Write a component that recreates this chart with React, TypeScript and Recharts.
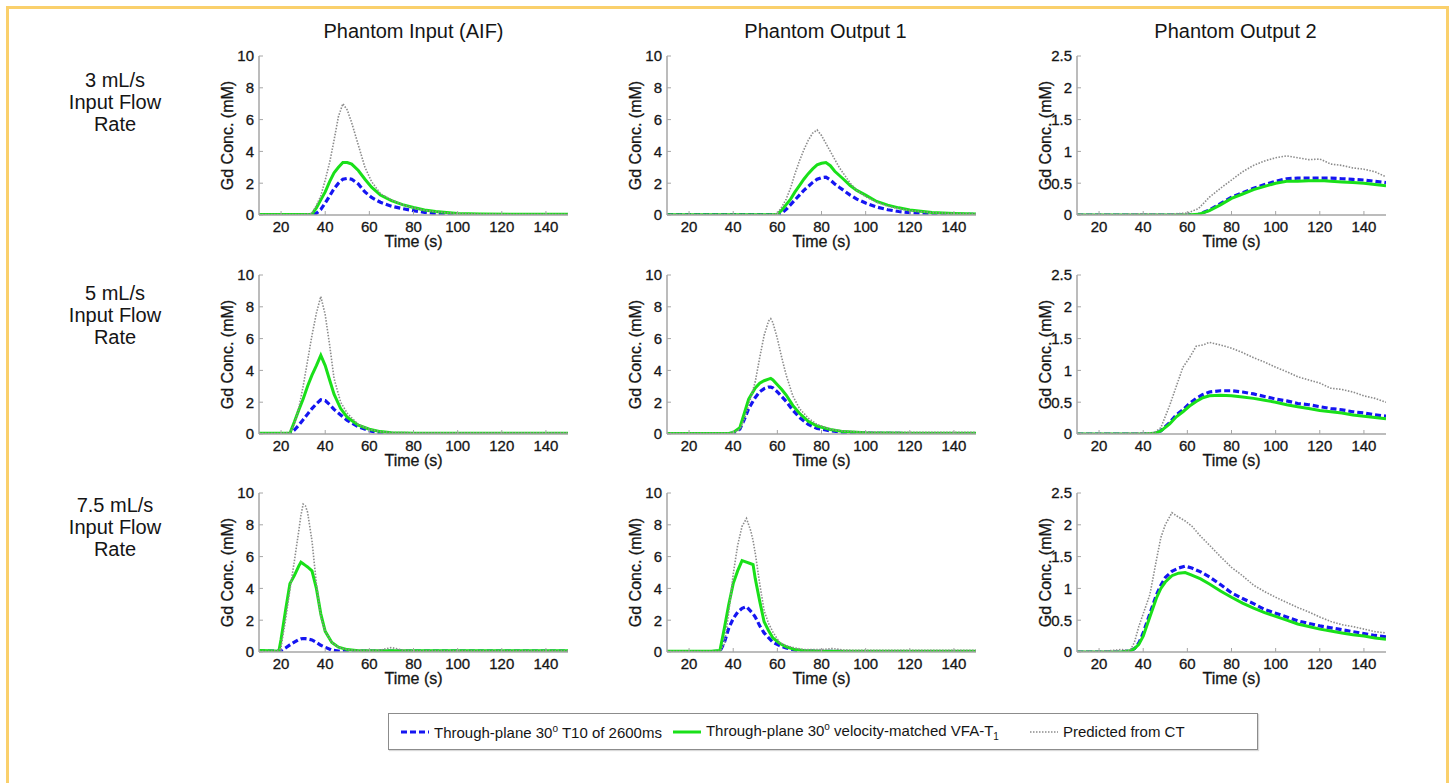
import { LineChart, Line, XAxis, YAxis } from 'recharts'

// axes
const timeTicks = [20, 40, 60, 80, 100, 120, 140]
const concTicks = [0, 2, 4, 6, 8, 10]
const lowConcTicks = [0, 0.5, 1, 1.5, 2, 2.5]

const columnTitles = ['Phantom Input (AIF)', 'Phantom Output 1', 'Phantom Output 2']
const flowRates = ['3 mL/s', '5 mL/s', '7.5 mL/s']

const legendLabels = ['Through-plane 30', 'Through-plane 30', 'Predicted from CT']

// 3 mL/s, input
const aif3Time = [10, 30, 34, 36, 38, 40, 42, 44, 46, 48, 50, 52, 55, 58, 61, 65, 70, 75, 80, 85, 90, 100, 110, 130, 150]
const aif3Blue = [0.02, 0.02, 0.02, 0.1, 0.35, 0.75, 1.2, 1.65, 2.0, 2.25, 2.3, 2.25, 1.95, 1.45, 1.1, 0.8, 0.55, 0.4, 0.27, 0.17, 0.08, 0.03, 0.02, 0.02, 0.02]
const aif3Green = [0.03, 0.03, 0.05, 0.45, 0.95, 1.45, 2.1, 2.65, 3.0, 3.3, 3.3, 3.2, 2.8, 2.25, 1.75, 1.25, 0.9, 0.65, 0.47, 0.32, 0.22, 0.1, 0.06, 0.04, 0.04]
const aif3Ct = [0.03, 0.03, 0.1, 0.6, 1.2, 2.2, 3.3, 4.7, 6.2, 7.0, 6.6, 5.8, 4.4, 3.0, 2.1, 1.35, 0.95, 0.65, 0.45, 0.3, 0.2, 0.1, 0.06, 0.04, 0.04]

// 3 mL/s, output 1
const out1r3Time = [10, 58, 60, 62, 64, 66, 68, 70, 72, 74, 76, 78, 80, 82, 84, 86, 88, 90, 93, 96, 100, 105, 110, 115, 120, 130, 140, 150]
const out1r3Blue = [0.02, 0.02, 0.02, 0.12, 0.35, 0.65, 0.95, 1.25, 1.55, 1.8, 2.05, 2.25, 2.35, 2.38, 2.2, 1.95, 1.75, 1.55, 1.25, 1.0, 0.75, 0.5, 0.33, 0.22, 0.15, 0.08, 0.05, 0.04]
const out1r3Green = [0.02, 0.02, 0.05, 0.3, 0.65, 1.0, 1.45, 1.85, 2.25, 2.6, 2.9, 3.15, 3.25, 3.3, 3.1, 2.75, 2.5, 2.25, 1.85, 1.55, 1.25, 0.85, 0.62, 0.45, 0.32, 0.16, 0.1, 0.07]
const out1r3Ct = [0.03, 0.03, 0.1, 0.5, 1.0, 1.7, 2.6, 3.4, 4.1, 4.7, 5.15, 5.35, 5.0, 4.5, 4.0, 3.5, 3.0, 2.6, 2.0, 1.55, 1.15, 0.8, 0.55, 0.4, 0.28, 0.15, 0.1, 0.08]

// 3 mL/s, output 2
const out2r3Time = [10, 20, 30, 40, 50, 60, 65, 70, 75, 80, 85, 90, 95, 100, 105, 110, 115, 120, 122, 125, 130, 135, 140, 145, 150]
const out2r3Blue = [0, 0, 0, 0, 0, 0, 0.01, 0.08, 0.18, 0.28, 0.35, 0.42, 0.48, 0.53, 0.57, 0.58, 0.58, 0.58, 0.58, 0.58, 0.57, 0.56, 0.55, 0.53, 0.51]
const out2r3Green = [0, 0, 0, 0, 0, 0, 0.01, 0.07, 0.16, 0.26, 0.33, 0.4, 0.45, 0.5, 0.53, 0.53, 0.54, 0.54, 0.54, 0.53, 0.52, 0.51, 0.5, 0.48, 0.46]
const out2r3Ct = [0.01, 0.01, 0.01, 0.02, 0.01, 0.03, 0.1, 0.28, 0.42, 0.55, 0.68, 0.78, 0.85, 0.9, 0.93, 0.9, 0.87, 0.88, 0.85, 0.8, 0.78, 0.74, 0.72, 0.68, 0.6]

// 5 mL/s, input
const aif5Time = [10, 20, 24, 26, 28, 30, 32, 34, 36, 38, 40, 42, 44, 47, 50, 55, 60, 65, 70, 80, 100, 120, 150]
const aif5Blue = [0.02, 0.02, 0.02, 0.25, 0.55, 0.9, 1.25, 1.6, 1.9, 2.15, 2.1, 1.85, 1.55, 1.2, 0.85, 0.45, 0.2, 0.05, 0.02, 0.02, 0.02, 0.02, 0.02]
const aif5Green = [0.05, 0.05, 0.05, 0.75, 1.5, 2.2, 3.0, 3.7, 4.3, 4.95, 4.3, 3.4, 2.5, 1.6, 1.05, 0.55, 0.3, 0.15, 0.08, 0.05, 0.05, 0.05, 0.05]
const aif5Ct = [0.05, 0.05, 0.1, 0.6, 1.6, 3.0, 4.6, 6.2, 7.6, 8.65, 7.5, 5.6, 3.5, 2.0, 1.3, 0.6, 0.3, 0.15, 0.1, 0.08, 0.08, 0.08, 0.08]

// 5 mL/s, output 1
const out1r5Time = [10, 38, 40, 43, 45, 47, 50, 52, 54, 56, 57, 58, 60, 62, 64, 67, 70, 74, 78, 84, 90, 100, 120, 150]
const out1r5Blue = [0.02, 0.02, 0.05, 0.3, 0.9, 1.6, 2.3, 2.65, 2.85, 2.95, 2.95, 2.9, 2.65, 2.35, 2.05, 1.5, 1.05, 0.6, 0.35, 0.2, 0.1, 0.05, 0.03, 0.03]
const out1r5Green = [0.03, 0.03, 0.1, 0.4, 1.3, 2.2, 2.9, 3.2, 3.35, 3.45, 3.5, 3.4, 3.1, 2.8, 2.45, 1.8, 1.3, 0.8, 0.5, 0.28, 0.15, 0.08, 0.05, 0.05]
const out1r5Ct = [0.05, 0.05, 0.05, 0.3, 0.9, 1.8, 3.3, 4.8, 6.2, 7.1, 7.25, 7.0, 6.0, 4.8, 3.7, 2.4, 1.6, 1.0, 0.6, 0.3, 0.18, 0.12, 0.1, 0.1]

// 5 mL/s, output 2
const out2r5Time = [10, 30, 40, 45, 48, 52, 55, 58, 61, 64, 67, 70, 75, 80, 85, 90, 95, 100, 105, 110, 115, 120, 125, 130, 135, 140, 145, 150]
const out2r5Blue = [0, 0, 0, 0.01, 0.05, 0.18, 0.3, 0.38, 0.48, 0.56, 0.62, 0.66, 0.68, 0.68, 0.66, 0.63, 0.59, 0.55, 0.52, 0.48, 0.46, 0.43, 0.4, 0.38, 0.35, 0.33, 0.3, 0.28]
const out2r5Green = [0, 0, 0, 0.01, 0.05, 0.16, 0.27, 0.35, 0.44, 0.51, 0.57, 0.6, 0.61, 0.6, 0.58, 0.56, 0.53, 0.5, 0.46, 0.43, 0.4, 0.37, 0.35, 0.33, 0.3, 0.28, 0.26, 0.24]
const out2r5Ct = [0.01, 0.01, 0.02, 0.02, 0.1, 0.45, 0.75, 1.05, 1.2, 1.38, 1.4, 1.44, 1.4, 1.35, 1.28, 1.2, 1.13, 1.05, 0.98, 0.9, 0.85, 0.8, 0.72, 0.7, 0.66, 0.6, 0.56, 0.5]

// 7.5 mL/s, input
const aif75Time = [10, 15, 19, 20, 22, 24, 26, 28, 29, 30, 31, 32, 34, 36, 38, 40, 43, 46, 50, 55, 60, 65, 70, 75, 80, 100, 120, 150]
const aif75Blue = [0.05, 0.05, 0.05, 0.08, 0.25, 0.45, 0.62, 0.78, 0.83, 0.85, 0.84, 0.82, 0.76, 0.6, 0.42, 0.3, 0.12, 0.06, 0.05, 0.05, 0.05, 0.05, 0.05, 0.05, 0.05, 0.05, 0.05, 0.05]
const aif75Green = [0.1, 0.08, 0.05, 0.8, 2.6, 4.3, 4.8, 5.4, 5.65, 5.55, 5.45, 5.35, 5.1, 4.0, 2.4, 1.3, 0.6, 0.3, 0.15, 0.08, 0.08, 0.08, 0.08, 0.08, 0.08, 0.08, 0.08, 0.08]
const aif75Ct = [0.05, 0.05, 0.1, 0.3, 2.0, 3.9, 5.7, 7.6, 8.6, 9.3, 9.2, 8.8, 7.0, 4.3, 2.2, 1.3, 0.6, 0.3, 0.15, 0.1, 0.1, 0.12, 0.28, 0.12, 0.08, 0.08, 0.08, 0.08]

// 7.5 mL/s, output 1
const out1r75Time = [10, 30, 34, 36, 38, 40, 42, 44, 46, 48, 49, 50, 52, 54, 56, 58, 61, 64, 68, 72, 80, 85, 90, 100, 120, 150]
const out1r75Blue = [0.03, 0.03, 0.05, 0.6, 1.5, 2.1, 2.5, 2.75, 2.85, 2.55, 2.4, 2.2, 1.65, 1.2, 0.9, 0.62, 0.4, 0.25, 0.12, 0.07, 0.04, 0.04, 0.03, 0.03, 0.03, 0.03]
const out1r75Green = [0.05, 0.05, 0.1, 1.5, 3.0, 4.3, 5.1, 5.75, 5.65, 5.55, 5.5, 4.6, 3.2, 1.9, 1.35, 0.88, 0.55, 0.33, 0.15, 0.1, 0.05, 0.05, 0.05, 0.05, 0.05, 0.05]
const out1r75Ct = [0.05, 0.05, 0.05, 0.5, 2.5, 4.9, 6.7, 7.9, 8.4, 7.6, 7.0, 6.2, 4.3, 2.6, 1.8, 1.25, 0.6, 0.4, 0.25, 0.15, 0.15, 0.22, 0.12, 0.1, 0.1, 0.1]

// 7.5 mL/s, output 2
const out2r75Time = [10, 20, 28, 30, 34, 36, 38, 40, 43, 46, 48, 50, 53, 56, 59, 62, 66, 70, 75, 80, 85, 90, 95, 100, 105, 110, 115, 120, 125, 130, 135, 140, 145, 150]
const out2r75Blue = [0, 0, 0, 0, 0.02, 0.05, 0.14, 0.3, 0.6, 0.9, 1.05, 1.17, 1.27, 1.32, 1.35, 1.32, 1.26, 1.18, 1.06, 0.93, 0.84, 0.76, 0.67, 0.61, 0.55, 0.49, 0.45, 0.41, 0.38, 0.35, 0.32, 0.29, 0.26, 0.24]
const out2r75Green = [0, 0, 0, 0, 0.02, 0.05, 0.12, 0.25, 0.55, 0.85, 1.0, 1.1, 1.2, 1.24, 1.25, 1.21, 1.15, 1.07, 0.96, 0.86, 0.77, 0.69, 0.62, 0.56, 0.5, 0.44, 0.4, 0.36, 0.33, 0.3, 0.27, 0.25, 0.22, 0.2]
const out2r75Ct = [0.01, 0.01, 0.03, 0.04, 0.02, 0.15, 0.4, 0.6, 0.9, 1.45, 1.8, 2.0, 2.19, 2.12, 2.06, 1.98, 1.82, 1.68, 1.5, 1.33, 1.2, 1.05, 0.95, 0.86, 0.78, 0.7, 0.63, 0.55, 0.48, 0.43, 0.4, 0.36, 0.32, 0.3]

const panels = [
  [
    { t: aif3Time, blue: aif3Blue, green: aif3Green, ct: aif3Ct, ticks: concTicks },
    { t: out1r3Time, blue: out1r3Blue, green: out1r3Green, ct: out1r3Ct, ticks: concTicks },
    { t: out2r3Time, blue: out2r3Blue, green: out2r3Green, ct: out2r3Ct, ticks: lowConcTicks },
  ],
  [
    { t: aif5Time, blue: aif5Blue, green: aif5Green, ct: aif5Ct, ticks: concTicks },
    { t: out1r5Time, blue: out1r5Blue, green: out1r5Green, ct: out1r5Ct, ticks: concTicks },
    { t: out2r5Time, blue: out2r5Blue, green: out2r5Green, ct: out2r5Ct, ticks: lowConcTicks },
  ],
  [
    { t: aif75Time, blue: aif75Blue, green: aif75Green, ct: aif75Ct, ticks: concTicks },
    { t: out1r75Time, blue: out1r75Blue, green: out1r75Green, ct: out1r75Ct, ticks: concTicks },
    { t: out2r75Time, blue: out2r75Blue, green: out2r75Green, ct: out2r75Ct, ticks: lowConcTicks },
  ],
]

const colors = {
  blue: '#1515f2',
  green: '#19e019',
  ct: '#8c8c8c',
  frame: '#a6a6a6',
  text: '#151515',
  border: '#fad06c',
}

const font = '"Liberation Sans", Arial, Helvetica, sans-serif'

const plotLeft = [259, 667, 1077]
const plotTop = [56, 275, 493]
const rowLabelTop = [69, 282, 494]
const PLOT_W = 309
const PLOT_H = 159
const Y_AXIS_W = 64
const X_AXIS_H = 46
const PAD_TOP = 14
const PAD_RIGHT = 10
const TICK_LEN = 4
const X_MARGIN = 6
const Y_MARGIN = 5

const seriesStyle = {
  blue: { stroke: colors.blue, strokeWidth: 3.2, strokeDasharray: '6 3' },
  green: { stroke: colors.green, strokeWidth: 3 },
  ct: { stroke: colors.ct, strokeWidth: 1.6, strokeDasharray: '1.5 1.5' },
}

const labelText = { fill: colors.text, stroke: colors.text, strokeWidth: 0.3, fontSize: 15 }

// inward MATLAB-style ticks; label offsets come from the axis' own tick positions
function BottomTick(props: any) {
  const { x, y, payload } = props
  const axisY = y - X_MARGIN
  return (
    <g>
      <line x1={x} y1={axisY} x2={x} y2={axisY - TICK_LEN} stroke={colors.frame} />
      <text x={x} y={y} dy="0.72em" textAnchor="middle" {...labelText}>
        {payload.value}
      </text>
    </g>
  )
}

function LeftTick(props: any) {
  const { x, y, payload } = props
  const axisX = x + Y_MARGIN
  return (
    <g>
      <line x1={axisX} y1={y} x2={axisX + TICK_LEN} y2={y} stroke={colors.frame} />
      <text x={x} y={y} dy="0.36em" textAnchor="end" {...labelText}>
        {payload.value}
      </text>
    </g>
  )
}

function TopTick(props: any) {
  const { x, y } = props
  return <line x1={x} y1={y} x2={x} y2={y + TICK_LEN} stroke={colors.frame} />
}

function RightTick(props: any) {
  const { x, y } = props
  return <line x1={x} y1={y} x2={x - TICK_LEN} y2={y} stroke={colors.frame} />
}

type PanelData = { t: number[]; blue: number[]; green: number[]; ct: number[]; ticks: number[] }

function Panel({ panel, left, top }: { panel: PanelData; left: number; top: number }) {
  const rows = panel.t.map((t, i) => ({ t, blue: panel.blue[i], green: panel.green[i], ct: panel.ct[i] }))
  const yMax = panel.ticks[panel.ticks.length - 1]
  return (
    <div style={{ position: 'absolute', left: left - Y_AXIS_W, top: top - PAD_TOP }}>
      <LineChart
        width={Y_AXIS_W + PLOT_W + PAD_RIGHT}
        height={PAD_TOP + PLOT_H + X_AXIS_H}
        data={rows}
        margin={{ top: PAD_TOP, right: PAD_RIGHT, bottom: 0, left: 0 }}
        style={{ fontFamily: font }}
      >
        <XAxis
          dataKey="t"
          type="number"
          domain={[10, 150]}
          ticks={timeTicks}
          interval={0}
          allowDataOverflow
          height={X_AXIS_H}
          stroke={colors.frame}
          strokeWidth={1.5}
          tickLine={false}
          tickSize={0}
          tickMargin={X_MARGIN}
          tick={<BottomTick />}
          label={{ value: 'Time (s)', position: 'insideBottom', offset: 14, ...labelText, fontSize: 16 }}
        />
        <XAxis
          xAxisId="top"
          orientation="top"
          type="number"
          domain={[10, 150]}
          ticks={timeTicks}
          interval={0}
          height={0}
          stroke={colors.frame}
          strokeWidth={1.5}
          tickLine={false}
          tickSize={0}
          tickMargin={0}
          tick={<TopTick />}
        />
        <YAxis
          type="number"
          domain={[0, yMax]}
          ticks={panel.ticks}
          interval={0}
          allowDataOverflow
          width={Y_AXIS_W}
          stroke={colors.frame}
          strokeWidth={1.5}
          tickLine={false}
          tickSize={0}
          tickMargin={Y_MARGIN}
          tick={<LeftTick />}
          label={{ value: 'Gd Conc. (mM)', angle: -90, position: 'center', ...labelText, fontSize: 16 }}
        />
        <YAxis
          yAxisId="right"
          orientation="right"
          type="number"
          domain={[0, yMax]}
          ticks={panel.ticks}
          interval={0}
          width={0}
          stroke={colors.frame}
          strokeWidth={1.5}
          tickLine={false}
          tickSize={0}
          tickMargin={0}
          tick={<RightTick />}
        />
        <Line type="linear" dataKey="blue" dot={false} isAnimationActive={false} {...seriesStyle.blue} />
        <Line type="linear" dataKey="green" dot={false} isAnimationActive={false} {...seriesStyle.green} />
        <Line type="linear" dataKey="ct" dot={false} isAnimationActive={false} {...seriesStyle.ct} />
      </LineChart>
    </div>
  )
}

function Sample({ style }: { style: { stroke: string; strokeWidth: number; strokeDasharray?: string } }) {
  return (
    <svg width={30} height={10} style={{ marginRight: 4, flex: 'none' }}>
      <line x1={1} y1={5} x2={29} y2={5} {...style} />
    </svg>
  )
}

export default function App() {
  return (
    <div
      style={{
        position: 'absolute',
        left: 0,
        top: 0,
        width: 1453,
        height: 783,
        background: '#fff',
        overflow: 'hidden',
        fontFamily: font,
        color: colors.text,
      }}
    >
      <div
        style={{
          position: 'absolute',
          left: 6,
          top: 6,
          width: 1443,
          height: 820,
          border: `3.5px solid ${colors.border}`,
          boxSizing: 'border-box',
        }}
      />
      {columnTitles.map((title, c) => (
        <div
          key={title}
          style={{
            position: 'absolute',
            left: plotLeft[c] + PLOT_W / 2 - 150 + (c === 0 ? 0 : 4),
            top: 19,
            width: 300,
            textAlign: 'center',
            fontSize: 20,
            lineHeight: '24px',
          }}
        >
          {title}
        </div>
      ))}
      {flowRates.map((rate, r) => (
        <div
          key={rate}
          style={{
            position: 'absolute',
            left: 40,
            top: rowLabelTop[r],
            width: 150,
            textAlign: 'center',
            fontSize: 20,
            lineHeight: '22px',
          }}
        >
          {rate}
          <br />
          Input Flow
          <br />
          Rate
        </div>
      ))}
      {panels.map((row, r) =>
        row.map((panel, c) => <Panel key={`${r}-${c}`} panel={panel} left={plotLeft[c]} top={plotTop[r]} />)
      )}
      <div
        style={{
          position: 'absolute',
          left: 388,
          top: 713,
          width: 870,
          height: 37,
          border: '1px solid #8c8c8c',
          boxShadow: '1px 1px 1px rgba(0,0,0,0.15)',
          boxSizing: 'border-box',
          display: 'flex',
          alignItems: 'center',
          paddingLeft: 11,
          fontSize: 15,
          whiteSpace: 'nowrap',
        }}
      >
        <Sample style={seriesStyle.blue} />
        <span style={{ marginRight: 10 }}>
          {legendLabels[0]}
          <sup style={{ fontSize: 10 }}>o</sup> T10 of 2600ms
        </span>
        <Sample style={seriesStyle.green} />
        <span style={{ marginRight: 30 }}>
          {legendLabels[1]}
          <sup style={{ fontSize: 10 }}>o</sup> velocity-matched VFA-T<sub style={{ fontSize: 10 }}>1</sub>
        </span>
        <Sample style={seriesStyle.ct} />
        <span>{legendLabels[2]}</span>
      </div>
    </div>
  )
}
